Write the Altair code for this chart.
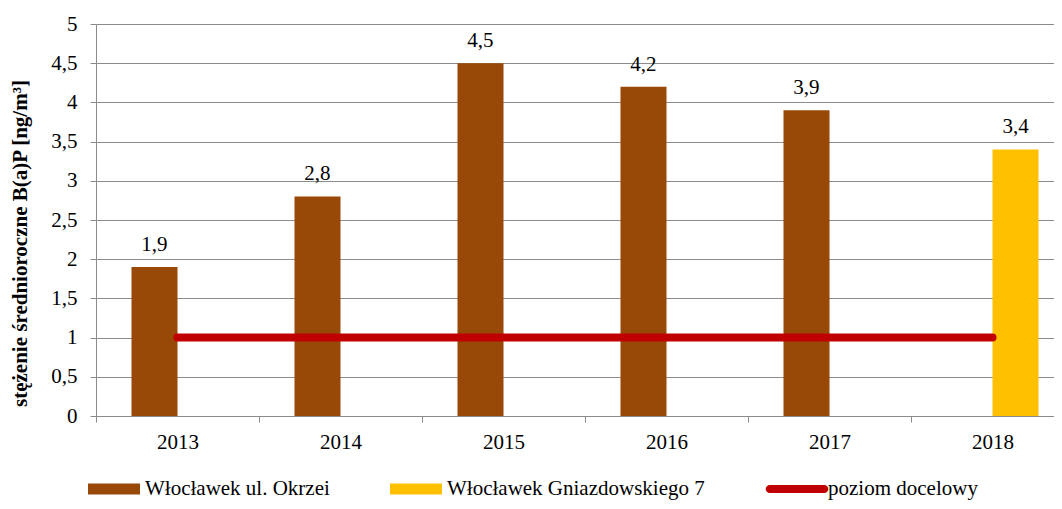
import altair as alt
import pandas as pd

years = ["2013", "2014", "2015", "2016", "2017", "2018"]
okrzei = [1.9, 2.8, 4.5, 4.2, 3.9, None]
gniazdowskiego = [None, None, None, None, None, 3.4]
poziom = [1, 1, 1, 1, 1, 1]
y_ticks = [0, 0.5, 1, 1.5, 2, 2.5, 3, 3.5, 4, 4.5, 5]

S1 = "Włocławek ul. Okrzei"
S2 = "Włocławek Gniazdowskiego 7"
S3 = "poziom docelowy"
series_names = [S1, S2, S3]
series_colors = ["#984807", "#FFC000", "#C00000"]

rows = []
for y, a, b in zip(years, okrzei, gniazdowskiego):
    if a is not None:
        rows.append({"rok": y, "seria": S1, "v": a})
    if b is not None:
        rows.append({"rok": y, "seria": S2, "v": b})
bars_df = pd.DataFrame(rows)
bars_df["lab"] = bars_df["v"].map(lambda v: f"{v:.1f}".replace(".", ","))
line_df = pd.DataFrame({"rok": years, "v": poziom, "seria": S3})

FONT = "Liberation Serif"
FS = 21
GRAY = "#8C8C8C"

x_enc = alt.X("rok:N", sort=years,
              scale=alt.Scale(paddingInner=0, paddingOuter=0),
              axis=alt.Axis(title=None, tickBand="extent", labelAngle=0,
                            labelFont=FONT, labelFontSize=FS, labelColor="#000000",
                            labelPadding=9, tickSize=6, tickColor=GRAY,
                            domainColor=GRAY, grid=False))
y_enc = alt.Y("v:Q", scale=alt.Scale(domain=[0, 5], nice=False),
              axis=alt.Axis(title="stężenie średnioroczne B(a)P [ng/m³]",
                            values=y_ticks, labelOverlap=False,
                            labelExpr="replace(format(datum.value, '~g'), '.', ',')",
                            labelFont=FONT, labelFontSize=FS, labelColor="#000000",
                            labelPadding=13, tickSize=6, tickColor=GRAY,
                            domainColor=GRAY, gridColor=GRAY, gridWidth=1,
                            titleFont=FONT, titleFontSize=FS, titleFontWeight="bold",
                            titleColor="#000000", titleAngle=270,
                            titleX=-76, titleY=219, titleAlign="center",
                            titleBaseline="middle"))

rect_path = "M-1,-0.21H1V0.21H-1Z"
line_path = "M-1.05,-0.155H1.05A0.155,0.155 0 0 1 1.05,0.155H-1.05A0.155,0.155 0 0 1 -1.05,-0.155Z"

color_enc = alt.Color("seria:N",
                      scale=alt.Scale(domain=series_names, range=series_colors),
                      legend=alt.Legend(
                          title=None, orient="none", direction="horizontal",
                          legendX=-8, legendY=439, padding=0,
                          labelFont=FONT, labelFontSize=FS, labelColor="#000000",
                          labelOffset=5, columnPadding=60, symbolSize=2704,
                          labelLimit=500,
                          symbolStrokeWidth=0, symbolOpacity=1,
                          symbolType={"expr": f"datum.value === '{S3}' ? '{line_path}' : '{rect_path}'"}))

xoff = alt.XOffset("seria:N", scale=alt.Scale(domain=[S1, S2], paddingInner=0, paddingOuter=0.7717))

bars = alt.Chart(bars_df).mark_bar().encode(
    x=x_enc, y=y_enc, xOffset=xoff, color=color_enc)

labels = alt.Chart(bars_df).mark_text(
    font=FONT, fontSize=FS, color="#000000", baseline="alphabetic", dy=-16
).encode(x=x_enc, y=y_enc, xOffset=xoff, text="lab:N")

line = alt.Chart(line_df).mark_line(strokeWidth=8, strokeCap="round").encode(
    x=x_enc, y=y_enc, color=color_enc)

chart = alt.layer(bars, labels, line).properties(
    width=978, height=392,
    autosize=alt.AutoSizeParams(type="none"),
    padding={"left": 88, "top": 16, "right": -20, "bottom": 85},
).configure_view(stroke=None).configure(background="white")

chart.save("out.html", embed_options={"renderer": "svg", "actions": False})
